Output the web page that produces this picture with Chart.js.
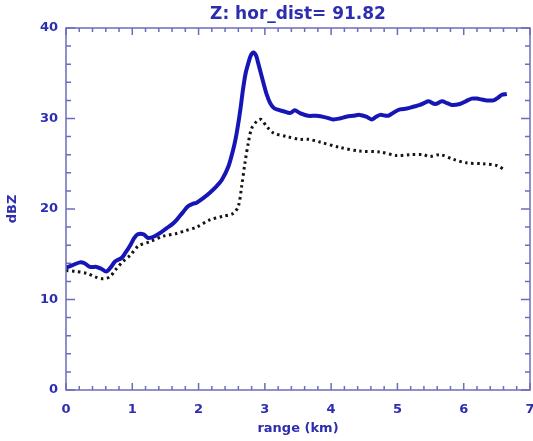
<!DOCTYPE html>
<html>
<head>
<meta charset="utf-8">
<script src="https://cdn.jsdelivr.net/npm/chart.js@4"></script>
<style>
  html, body { margin: 0; padding: 0; background: #fff; }
  #wrap { width: 533px; height: 441px; position: relative; }
</style>
</head>
<body>
<div id="wrap"><canvas id="zChart"></canvas></div>
<script>
// reflectivity along range, solid = Z profile, dotted = reference profile
const rangeSolid = [0.00, 0.10, 0.21, 0.28, 0.36, 0.46, 0.53, 0.61, 0.68, 0.74, 0.84, 0.90, 0.97, 1.03, 1.08, 1.17,
  1.24, 1.34, 1.43, 1.52, 1.60, 1.67, 1.76, 1.84, 1.92, 1.97, 2.07, 2.17, 2.27, 2.35, 2.45, 2.52, 2.56, 2.60,
  2.64, 2.67, 2.71, 2.75, 2.79, 2.83, 2.87, 2.90, 2.94, 2.98, 3.03, 3.08, 3.13, 3.18, 3.28, 3.38, 3.45, 3.53,
  3.65, 3.78, 3.93, 4.03, 4.13, 4.23, 4.33, 4.43, 4.53, 4.61, 4.68, 4.74, 4.86, 4.95, 5.04, 5.14, 5.24, 5.34,
  5.40, 5.47, 5.57, 5.67, 5.75, 5.82, 5.94, 6.03, 6.12, 6.20, 6.27, 6.35, 6.45, 6.52, 6.57, 6.65];
const dbzSolid = [13.5, 13.8, 14.1, 14.0, 13.6, 13.6, 13.4, 13.1, 13.6, 14.2, 14.6, 15.2, 16.0, 16.8, 17.2, 17.2,
  16.8, 17.0, 17.4, 17.9, 18.3, 18.8, 19.6, 20.3, 20.6, 20.7, 21.2, 21.8, 22.5, 23.2, 24.7, 26.5, 27.8, 29.5,
  31.5, 33.2, 35.0, 36.1, 37.0, 37.3, 36.9, 36.1, 35.0, 33.9, 32.6, 31.7, 31.2, 31.0, 30.8, 30.6, 30.9, 30.6,
  30.3, 30.3, 30.1, 29.9, 30.0, 30.2, 30.3, 30.4, 30.2, 29.9, 30.2, 30.4, 30.3, 30.7, 31.0, 31.1, 31.3, 31.5,
  31.7, 31.9, 31.6, 31.9, 31.7, 31.5, 31.6, 31.9, 32.2, 32.2, 32.1, 32.0, 32.0, 32.3, 32.6, 32.7];

const rangeDotted = [0.00, 0.14, 0.31, 0.44, 0.56, 0.66, 0.76, 0.86, 0.97, 1.09, 1.27, 1.47, 1.67, 1.80, 1.97,
  2.17, 2.37, 2.52, 2.60, 2.65, 2.70, 2.75, 2.80, 2.88, 2.94, 3.03, 3.13, 3.33, 3.53, 3.65, 3.83, 4.13, 4.43,
  4.74, 4.99, 5.19, 5.39, 5.49, 5.64, 5.84, 6.04, 6.29, 6.50, 6.62];
const dbzDotted = [13.2, 13.1, 12.9, 12.5, 12.3, 12.5, 13.4, 14.2, 14.9, 15.9, 16.4, 17.0, 17.3, 17.6, 18.0,
  18.8, 19.2, 19.5, 20.3, 22.5, 25.1, 27.3, 28.9, 29.7, 29.9, 29.1, 28.4, 28.0, 27.7, 27.7, 27.4, 26.8, 26.4,
  26.3, 25.9, 26.0, 26.0, 25.8, 26.0, 25.5, 25.1, 25.0, 24.8, 24.3];

const plotTitle = 'Z: hor_dist= 91.82';
const xTitle = 'range (km)';
const yTitle = 'dBZ';
const xRange = [0, 7];
const yRange = [0, 40];

const textColor = '#2d2db0';
const axisColor = '#6c6cbc';

const toPoints = (xs, ys) => xs.map((x, i) => ({ x: x, y: ys[i] }));

// IDL-style frame: box on all four sides with inward major/minor ticks
const frameTicks = {
    id: 'frameTicks',
    afterDraw(chart) {
        const { ctx, chartArea: a, scales } = chart;
        const sx = scales.x, sy = scales.y;
        ctx.save();
        ctx.strokeStyle = axisColor;
        ctx.lineWidth = 1.5;
        ctx.strokeRect(a.left, a.top, a.right - a.left, a.bottom - a.top);
        ctx.beginPath();
        for (let i = 0; i <= 35; i++) {
            const px = sx.getPixelForValue(i / 5);
            const len = i % 5 === 0 ? 7 : 4;
            ctx.moveTo(px, a.bottom); ctx.lineTo(px, a.bottom - len);
            ctx.moveTo(px, a.top); ctx.lineTo(px, a.top + len);
        }
        for (let i = 0; i <= 20; i++) {
            const py = sy.getPixelForValue(i * 2);
            const len = i % 5 === 0 ? 9 : 5;
            ctx.moveTo(a.left, py); ctx.lineTo(a.left + len, py);
            ctx.moveTo(a.right, py); ctx.lineTo(a.right - len, py);
        }
        ctx.stroke();
        ctx.restore();
    }
};

const font = (size) => ({ family: '"DejaVu Sans", sans-serif', size: size, weight: 'bold' });

new Chart(document.getElementById('zChart'), {
    type: 'line',
    data: {
        datasets: [
            {
                data: toPoints(rangeSolid, dbzSolid),
                borderColor: '#1616b6',
                borderWidth: 4,
                pointRadius: 0,
                tension: 0.3,
                fill: false
            },
            {
                data: toPoints(rangeDotted, dbzDotted),
                borderColor: '#141414',
                borderWidth: 3,
                borderDash: [2.5, 3.5],
                pointRadius: 0,
                tension: 0.3,
                fill: false
            }
        ]
    },
    options: {
        responsive: true,
        maintainAspectRatio: false,
        animation: false,
        layout: { padding: { top: 0, left: 0, right: 3, bottom: 0 } },
        plugins: {
            legend: { display: false },
            tooltip: { enabled: false },
            title: { display: false }
        },
        scales: {
            x: {
                type: 'linear',
                position: 'bottom',
                min: xRange[0], max: xRange[1],
                grid: { display: false, drawTicks: false },
                border: { display: false },
                ticks: { stepSize: 1, color: textColor, font: font(13), padding: 12, maxRotation: 0 },
                title: { display: true, text: xTitle, color: textColor, font: font(13), padding: { top: 0, bottom: 5 } },
                afterFit(scale) { scale.height = 51; scale.paddingLeft = 0; scale.paddingRight = 0; }
            },
            xTop: {
                type: 'linear',
                position: 'top',
                min: xRange[0], max: xRange[1],
                grid: { display: false, drawTicks: false },
                border: { display: false },
                ticks: { display: false },
                title: { display: true, text: plotTitle, color: textColor, font: font(17), padding: { top: 4, bottom: 0 } },
                afterFit(scale) { scale.height = 28; }
            },
            y: {
                type: 'linear',
                min: yRange[0], max: yRange[1],
                grid: { display: false, drawTicks: false },
                border: { display: false },
                ticks: { stepSize: 10, color: textColor, font: font(13), padding: 8 },
                title: { display: true, text: yTitle, color: textColor, font: font(13), padding: { top: 5, bottom: 0 } },
                afterFit(scale) { scale.width = 66; }
            }
        }
    },
    plugins: [frameTicks]
});
</script>
</body>
</html>
